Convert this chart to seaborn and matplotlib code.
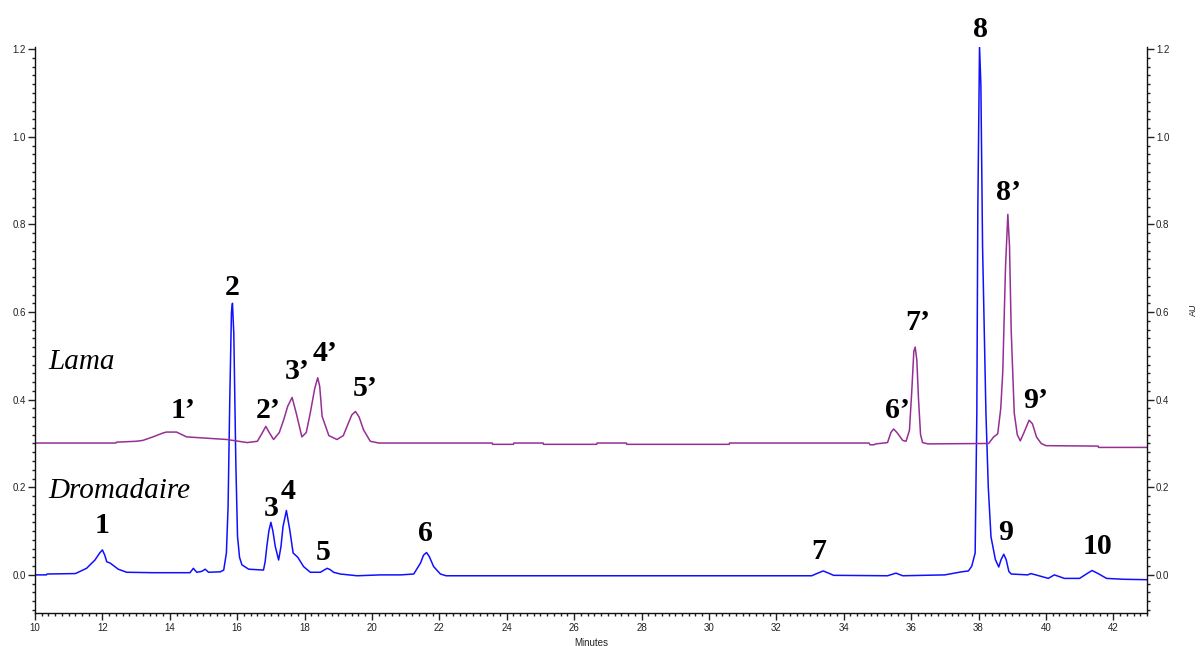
import numpy as np
import pandas as pd
import matplotlib
matplotlib.use("Agg")
import matplotlib.pyplot as plt
from matplotlib.ticker import MultipleLocator, FormatStrFormatter
import seaborn as sns

# ---------------- data ----------------
drom_time = [10.0, 10.34, 10.36, 11.2, 11.53, 11.78, 11.92, 12.0, 12.07, 12.13, 12.23, 12.35,
             12.47, 12.72, 13.5, 14.6, 14.7, 14.8, 14.95, 15.05, 15.15, 15.5, 15.6, 15.68,
             15.73, 15.78, 15.83, 15.86, 15.9, 15.96, 16.01, 16.07, 16.14, 16.34, 16.78,
             16.83, 16.88, 16.94, 17.0, 17.06, 17.13, 17.23, 17.3, 17.36, 17.46, 17.56,
             17.66, 17.8, 17.97, 18.17, 18.47, 18.58, 18.67, 18.76, 18.86, 19.06, 19.56,
             20.25, 20.85, 21.24, 21.44, 21.53, 21.62, 21.7, 21.83, 22.03, 22.2, 33.05,
             33.2, 33.39, 33.55, 33.7, 35.3, 35.55, 35.75, 37.0, 37.5, 37.7, 37.8, 37.9,
             37.95, 37.98, 38.03, 38.07, 38.12, 38.22, 38.29, 38.37, 38.5, 38.6, 38.67,
             38.75, 38.82, 38.9, 38.97, 39.46, 39.55, 39.7, 40.07, 40.25, 40.55, 41.0,
             41.2, 41.37, 41.55, 41.8, 42.3, 43.0]
drom_abs = [0.000, 0.000, 0.002, 0.003, 0.015, 0.034, 0.050, 0.057, 0.045, 0.030, 0.027, 0.020,
            0.013, 0.006, 0.005, 0.005, 0.015, 0.006, 0.008, 0.013, 0.006, 0.007, 0.011, 0.050,
            0.156, 0.400, 0.600, 0.620, 0.550, 0.255, 0.088, 0.040, 0.023, 0.013, 0.011,
            0.030, 0.065, 0.100, 0.120, 0.100, 0.065, 0.034, 0.065, 0.110, 0.147, 0.103,
            0.050, 0.040, 0.019, 0.006, 0.006, 0.011, 0.015, 0.012, 0.006, 0.002, -0.002,
            0.000, 0.000, 0.002, 0.027, 0.045, 0.051, 0.042, 0.019, 0.002, -0.002, -0.002,
            0.003, 0.009, 0.004, -0.001, -0.002, 0.004, -0.002, 0.000, 0.007, 0.009, 0.020, 0.050,
            0.370, 0.840, 1.205, 1.120, 0.750, 0.370, 0.200, 0.087, 0.035, 0.018, 0.035,
            0.047, 0.035, 0.008, 0.002, 0.000, 0.003, 0.000, -0.008, 0.000, -0.008, -0.008,
            0.002, 0.010, 0.003, -0.008, -0.010, -0.011]

lama_time = [10.0, 12.4, 12.42, 13.0, 13.2, 13.5, 13.8, 13.9, 14.2, 14.5, 15.1, 15.7, 16.3,
             16.6, 16.75, 16.85, 16.95, 17.08, 17.25, 17.38, 17.5, 17.63, 17.75, 17.92,
             18.05, 18.17, 18.3, 18.39, 18.45, 18.52, 18.72, 18.96, 19.15, 19.26, 19.4,
             19.51, 19.62, 19.75, 19.95, 20.2, 23.57, 23.58, 24.2, 24.21, 25.08, 25.09,
             26.67, 26.68, 27.55, 27.56, 30.6, 30.61, 34.75, 34.78, 34.9, 34.95, 35.3, 35.4,
             35.48, 35.58, 35.75, 35.85, 35.95, 36.02, 36.08, 36.12, 36.17, 36.22, 36.28,
             36.34, 36.5, 38.3, 38.45, 38.57, 38.66, 38.72, 38.8, 38.87, 38.92, 38.97,
             39.06, 39.15, 39.24, 39.35, 39.5, 39.6, 39.72, 39.86, 40.0, 41.55, 41.56, 43.0]
lama_abs = [0.301, 0.301, 0.303, 0.305, 0.307, 0.315, 0.324, 0.326, 0.326, 0.315, 0.312, 0.309,
            0.302, 0.305, 0.325, 0.339, 0.325, 0.309, 0.325, 0.354, 0.385, 0.405, 0.370,
            0.315, 0.325, 0.370, 0.425, 0.450, 0.430, 0.362, 0.318, 0.309, 0.318, 0.339,
            0.365, 0.373, 0.360, 0.331, 0.305, 0.301, 0.301, 0.298, 0.298, 0.301, 0.301,
            0.298, 0.298, 0.301, 0.301, 0.298, 0.298, 0.301, 0.301, 0.297, 0.297, 0.299,
            0.302, 0.325, 0.333, 0.325, 0.307, 0.305, 0.330, 0.420, 0.510, 0.520, 0.490,
            0.400, 0.320, 0.302, 0.299, 0.300, 0.315, 0.322, 0.380, 0.464, 0.700, 0.823,
            0.750, 0.558, 0.370, 0.320, 0.306, 0.325, 0.353, 0.345, 0.315, 0.300, 0.295,
            0.294, 0.291, 0.291]

peak_names = ["1", "2", "3", "4", "5", "6", "7", "8", "9", "10",
              "1\u2019", "2\u2019", "3\u2019", "4\u2019", "5\u2019", "6\u2019", "7\u2019", "8\u2019", "9\u2019"]
peak_x = [12.0, 15.85, 17.0, 17.5, 18.56, 21.6, 33.26, 38.07, 38.79, 41.54,
          14.4, 16.92, 17.78, 18.6, 19.8, 35.6, 36.19, 38.88, 39.7]
# text baselines
peak_y = [0.096, 0.638, 0.135, 0.174, 0.034, 0.078, 0.037, 1.228, 0.080, 0.048,
          0.357, 0.357, 0.448, 0.489, 0.409, 0.357, 0.558, 0.855, 0.382]

sample_names = ["Lama", "Dromadaire"]
sample_x = [10.39, 10.39]
sample_y = [0.471, 0.176]

# ---------------- figure ----------------
sns.set_style("ticks")
plt.rcParams["font.family"] = ["Liberation Sans", "DejaVu Sans"]

df = pd.concat([
    pd.DataFrame({"time": drom_time, "abs": drom_abs, "sample": "Dromadaire"}),
    pd.DataFrame({"time": lama_time, "abs": lama_abs, "sample": "Lama"}),
], ignore_index=True)

fig = plt.figure(figsize=(12.03, 6.46), dpi=100)
ax = fig.add_axes([35 / 1203, 1 - 613 / 646, (1147 - 35) / 1203, (613 - 47) / 646])

sns.lineplot(data=df, x="time", y="abs", hue="sample", units="sample", estimator=None,
             sort=False, palette={"Dromadaire": "#1010ff", "Lama": "#952f94"},
             linewidth=1.1, legend=False, ax=ax)

ax.set_xlim(10, 43)
ax.set_ylim(-0.087, 1.205)
ax.set_xlabel("")
ax.set_ylabel("")

ax.spines["top"].set_visible(False)
for s in ["left", "right", "bottom"]:
    ax.spines[s].set_visible(True)
    ax.spines[s].set_linewidth(1.0)
    ax.spines[s].set_color("#111111")

ax.xaxis.set_major_locator(MultipleLocator(2))
ax.xaxis.set_minor_locator(MultipleLocator(0.2))
ax.yaxis.set_major_locator(MultipleLocator(0.2))
ax.yaxis.set_minor_locator(MultipleLocator(0.02))
ax.yaxis.set_major_formatter(FormatStrFormatter("%.1f"))
ax.xaxis.set_major_formatter(FormatStrFormatter("%d"))

ax.tick_params(axis="y", which="both", left=True, right=True, labelleft=True,
               labelright=True, direction="out", colors="#222222", labelsize=7, pad=1.5)
ax.tick_params(axis="x", which="both", bottom=True, top=False, direction="out",
               colors="#222222", labelsize=7, pad=2)
ax.tick_params(which="major", length=5, width=1)
ax.tick_params(which="minor", length=2.5, width=1)

serif = ["Liberation Serif", "DejaVu Serif"]
# peak labels
for name, px, py in zip(peak_names, peak_x, peak_y):
    ax.text(px, py, name, ha="center", va="baseline", fontsize=21.5, fontweight="bold",
            family=serif, color="black", clip_on=False)

# sample names
for name, sx, sy in zip(sample_names, sample_x, sample_y):
    ax.text(sx, sy, name, ha="left", va="baseline", fontsize=21,
            fontstyle="italic", family=serif, color="black")

fig.text(591 / 1203, 1 - 638 / 646, "Minutes", ha="center", va="top", fontsize=7, color="#222222")
fig.text(1193 / 1203, 1 - 310 / 646, "AU", ha="center", va="center", rotation=90,
         fontsize=6.5, color="#222222")

fig.savefig("out.png", dpi=100)
